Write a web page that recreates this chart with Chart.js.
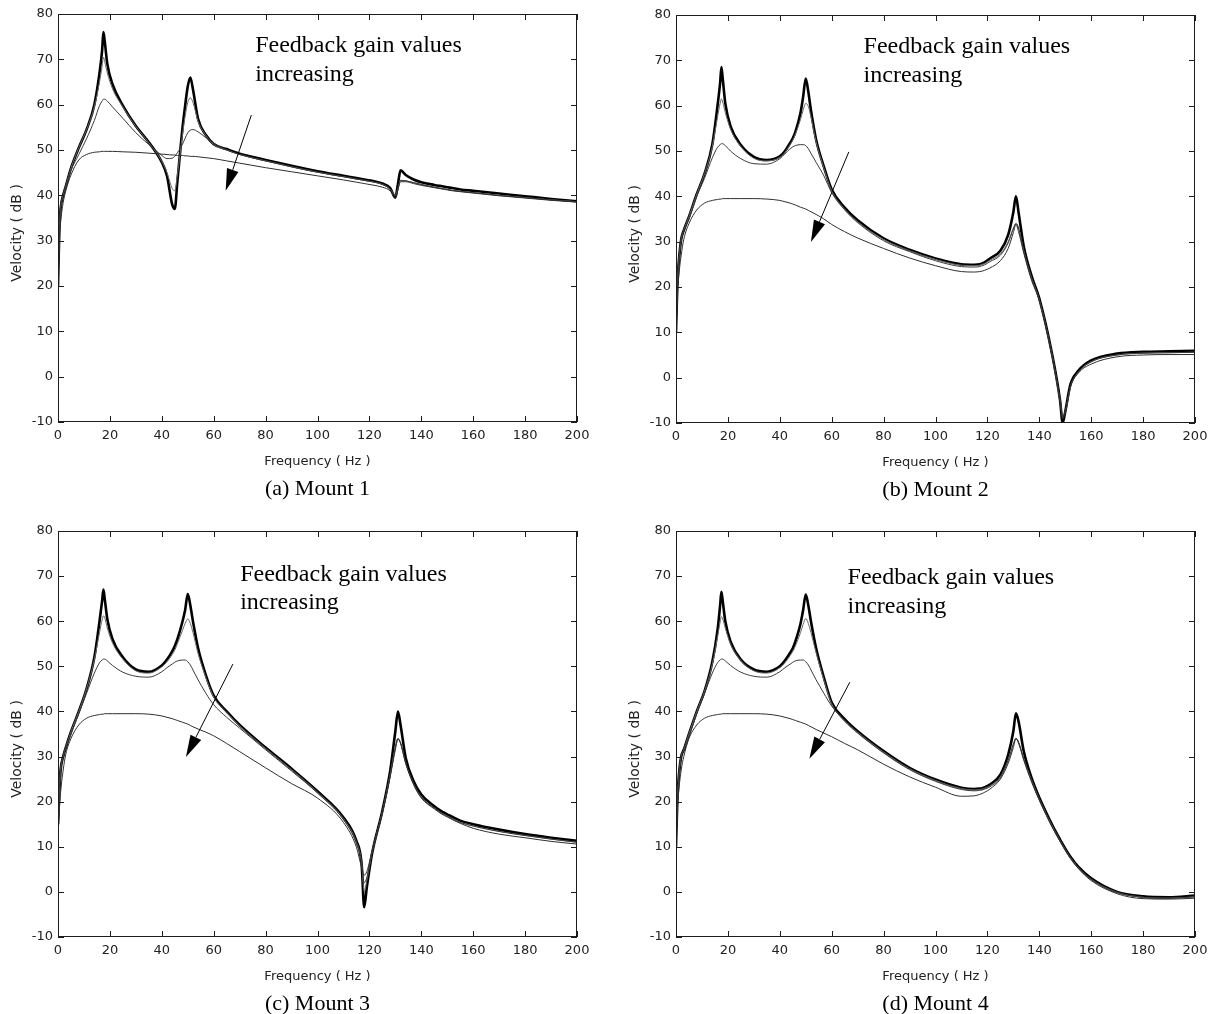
<!DOCTYPE html>
<html>
<head>
<meta charset="utf-8">
<title>Velocity response for increasing feedback gain</title>
<script src="https://cdn.jsdelivr.net/npm/chart.js@4.4.0/dist/chart.umd.min.js"></script>
<style>
    body { margin: 0; background: #fff; }
    #page { position: relative; width: 1217px; height: 1014px; background: #fff; }
    #page canvas { position: absolute; }
</style>
</head>
<body>
<div id="page">
    <canvas id="mount1" width="608" height="505" style="left:0;top:0"></canvas>
    <canvas id="mount2" width="609" height="505" style="left:608px;top:0"></canvas>
    <canvas id="mount3" width="608" height="509" style="left:0;top:505px"></canvas>
    <canvas id="mount4" width="609" height="509" style="left:608px;top:505px"></canvas>
</div>
<script>
/* ------------------------------- Data -------------------------------*/

// frequency samples (Hz), shared by every curve
var FREQ = [0, 0.5, 1, 2, 3, 5, 8, 11, 14, 16, 17, 17.5, 18, 19, 21, 25, 30, 35, 40, 42,
    44, 45, 46, 48, 49, 50, 51, 52, 54, 57, 60, 65, 70, 80, 90, 100, 110, 115, 117, 118,
    119, 121, 125, 128, 130, 131, 132, 134, 137, 140, 145, 148, 149, 150, 152, 155, 160, 170, 180, 190, 200];

var X_TICKS = [0, 20, 40, 60, 80, 100, 120, 140, 160, 180, 200];
var Y_TICKS = [-10, 0, 10, 20, 30, 40, 50, 60, 70, 80];

// velocity (dB), gain 1 = lowest feedback gain ... gain 4 = highest
var MOUNT1_G1 = [20, 32, 37, 40, 42, 46, 50.5, 54.5, 60, 67, 72, 76, 74, 69, 64.5, 59.8, 55.3, 51.7, 47.3, 44.3,
    38, 37, 43, 55, 59.8, 64, 66, 63.4, 56.8, 53.3, 51.3, 50.2, 49.2, 47.8, 46.5, 45.3, 44.3, 43.8, 43.6, 43.5,
    43.4, 43.2, 42.6, 41.6, 39.5, 42.5, 45.5, 44.5, 43.5, 42.9, 42.3, 42, 41.9, 41.8, 41.6, 41.3, 41, 40.4, 39.8, 39.2, 38.7];
var MOUNT1_G2 = [20, 32, 37, 40, 42, 46, 50.5, 54.5, 59.5, 65, 68.5, 70.5, 69.5, 67, 63.5, 59.5, 55.2, 51.6, 47.5, 45,
    41.5, 41, 44.5, 53.5, 57.5, 60.5, 61.5, 60.5, 56.3, 53.2, 51.2, 50, 49, 47.6, 46.3, 45.1, 44.1, 43.6, 43.4, 43.3,
    43.2, 43, 42.4, 41.4, 40, 41.5, 43.3, 43.2, 42.8, 42.4, 41.8, 41.5, 41.4, 41.3, 41.1, 40.9, 40.6, 40, 39.5, 39, 38.6];
var MOUNT1_G3 = [20, 32, 37, 40, 42, 45.5, 49, 52.5, 56.5, 59.8, 60.8, 61.2, 61.2, 60.8, 59.5, 57, 53.8, 51.2, 48.8, 48.1,
    48.2, 48.6, 49.4, 51.3, 52.6, 53.8, 54.4, 54.5, 54, 52.7, 51.5, 50, 49, 47.6, 46.3, 45.1, 44.1, 43.6, 43.4, 43.3,
    43.2, 43, 42.4, 41.4, 40, 41.5, 43.3, 43.2, 42.8, 42.4, 41.8, 41.5, 41.4, 41.3, 41.1, 40.9, 40.6, 40, 39.5, 39, 38.6];
var MOUNT1_G4 = [20, 30, 34, 38.4, 41, 44.5, 47.8, 49, 49.5, 49.6, 49.7, 49.7, 49.7, 49.7, 49.7, 49.6, 49.5, 49.3, 49.1, 49,
    48.9, 48.9, 48.8, 48.8, 48.7, 48.7, 48.6, 48.6, 48.5, 48.3, 48.1, 47.6, 47.1, 46.1, 45.2, 44.3, 43.4, 42.9, 42.7, 42.6,
    42.5, 42.3, 41.8, 41, 39.5, 41.2, 43, 43, 42.6, 42.2, 41.7, 41.4, 41.3, 41.2, 41, 40.8, 40.5, 39.9, 39.4, 38.9, 38.5];

var MOUNT2_G1 = [10, 20, 25, 30.5, 32.5, 35.5, 40.5, 45, 51.5, 60, 65, 68.5, 66, 60.5, 55.5, 51.3, 48.7, 48, 48.8, 50,
    51.8, 52.8, 54.2, 58.5, 62, 66, 63, 59, 52.5, 46.5, 41.5, 37.5, 34.7, 30.7, 28.2, 26.3, 25, 24.9, 25, 25.2,
    25.5, 26.3, 28, 31.5, 36.5, 40, 36.5, 29, 22.5, 17.5, 5, -5, -10, -7.5, -1.5, 1.5, 3.8, 5.3, 5.7, 5.8, 5.9];
var MOUNT2_G2 = [10, 20, 25, 30.5, 32.5, 35.5, 40.5, 45, 51, 57.5, 60.5, 61.5, 60.8, 58.5, 54.8, 51, 48.4, 47.8, 48.6, 49.7,
    51.4, 52.4, 53.7, 57, 59, 60.5, 59.8, 57.5, 52, 46.2, 41.2, 37.2, 34.4, 30.5, 28, 26.1, 24.8, 24.7, 24.8, 25,
    25.2, 25.9, 27.3, 30, 33, 34, 33, 28, 22, 17.2, 4.8, -5, -8.5, -7.5, -2, 1.2, 3.5, 5, 5.4, 5.5, 5.6];
var MOUNT2_G3 = [10, 20, 25, 30.5, 32.5, 35, 40, 44, 48.5, 50.8, 51.4, 51.6, 51.6, 51.2, 50, 48.3, 47.2, 47.1, 48.3, 49.4,
    50.5, 50.9, 51.2, 51.4, 51.4, 51.2, 50.5, 49.5, 47.5, 44.5, 40.8, 37, 34.2, 30.2, 27.8, 25.8, 24.5, 24.4, 24.5, 24.7,
    24.9, 25.6, 27, 29.7, 32.8, 34, 33, 28, 22, 17.2, 4.8, -5, -9, -7.5, -2, 1.2, 3.5, 5, 5.4, 5.5, 5.6];
var MOUNT2_G4 = [10, 18, 22, 27, 30.5, 34, 37, 38.5, 39.1, 39.3, 39.4, 39.4, 39.5, 39.5, 39.5, 39.5, 39.5, 39.4, 39.1, 38.8,
    38.5, 38.3, 38.1, 37.6, 37.4, 37.2, 36.9, 36.6, 36, 35, 33.8, 32.2, 30.8, 28.5, 26.4, 24.7, 23.4, 23.3, 23.4, 23.5,
    23.7, 24.2, 25.8, 28.5, 32, 33.8, 32.2, 27.5, 21.5, 17, 4.5, -5, -8.5, -7.5, -2, 1, 3, 4.6, 5, 5.1, 5.1];

var MOUNT3_G1 = [15, 22, 27, 30, 32, 35.5, 40, 45, 52, 60, 64.5, 67, 65, 60.5, 56, 52, 49.3, 48.8, 50.2, 51.5,
    53.3, 54.5, 56, 60, 62.5, 66, 63.5, 60, 54, 48, 43.5, 40, 37, 32, 27.3, 22.3, 16.5, 11.3, 6.2, -3.4,
    1, 8.4, 18, 26.8, 35.6, 40, 37, 29.7, 24.6, 21.6, 19, 17.8, 17.5, 17.2, 16.6, 15.8, 15, 13.8, 12.8, 12, 11.3];
var MOUNT3_G2 = [12, 22, 27, 30, 32, 35.5, 40, 45, 51.5, 57.5, 60.3, 61.2, 60.8, 58.5, 55.2, 51.6, 49, 48.5, 49.9, 51,
    52.6, 53.6, 55, 58, 59.5, 60.5, 59.5, 57.5, 52.8, 47.5, 43.2, 39.8, 36.8, 31.8, 27.1, 22.1, 16.2, 11, 6.5, 0,
    2.5, 8.6, 17.8, 26, 32.2, 34, 33, 28.5, 24, 21, 18.6, 17.4, 17.1, 16.8, 16.2, 15.4, 14.6, 13.4, 12.5, 11.7, 11];
var MOUNT3_G3 = [12, 22, 27, 30, 32, 35, 39.5, 44, 48.5, 50.8, 51.4, 51.6, 51.6, 51.2, 50.2, 48.7, 47.8, 47.6, 48.8, 49.7,
    50.5, 50.9, 51.2, 51.4, 51.4, 51, 50.3, 49.2, 47, 44, 41.5, 38.7, 36.3, 31.5, 26.8, 21.9, 16, 10.8, 6.8, 2,
    3.2, 8.8, 17.6, 25.8, 32, 34, 33, 28.5, 24, 21, 18.6, 17.4, 17.1, 16.8, 16.2, 15.4, 14.6, 13.4, 12.5, 11.7, 11];
var MOUNT3_G4 = [12, 18, 22, 27, 30.5, 34, 37, 38.5, 39.1, 39.3, 39.4, 39.4, 39.5, 39.5, 39.5, 39.5, 39.5, 39.4, 39, 38.7,
    38.4, 38.2, 38, 37.6, 37.4, 37.2, 36.9, 36.6, 36.1, 35.4, 34.6, 32.9, 31.1, 27.5, 24, 20.8, 15.4, 9.9, 5.4, 3.7,
    4.5, 9, 17.5, 25.5, 31.5, 33.8, 33, 28.5, 23.8, 20.8, 18.4, 17.2, 16.9, 16.6, 16, 15.2, 14.1, 12.8, 12, 11.2, 10.6];

var MOUNT4_G1 = [10, 20, 25, 30, 31.5, 35, 40, 44.5, 51, 58, 63.5, 66.5, 64.5, 60, 55.5, 51.5, 49.3, 48.8, 50, 51.3,
    53, 54, 55.5, 59.5, 62.5, 65.9, 63.5, 60, 54, 47.5, 42, 38.3, 35.6, 31.2, 27.5, 24.9, 23.1, 22.8, 22.9, 23,
    23.2, 23.8, 26, 30.4, 35.6, 39.6, 37.8, 31.2, 25.3, 20.9, 14.8, 11.6, 10.6, 9.6, 7.8, 5.6, 3, 0, -1, -1.2, -0.8];
var MOUNT4_G2 = [10, 20, 25, 30, 31.5, 35, 40, 44.5, 50.5, 56.5, 59.8, 61, 60.5, 58.5, 55, 51.3, 49, 48.5, 49.7, 50.8,
    52.4, 53.3, 54.5, 57.5, 59.3, 60.6, 59.5, 57.5, 53, 47, 41.7, 38, 35.4, 31, 27.3, 24.7, 22.9, 22.6, 22.7, 22.8,
    23, 23.5, 25.5, 29.3, 32.8, 34, 33.2, 29.5, 24.8, 20.6, 14.6, 11.4, 10.4, 9.4, 7.6, 5.4, 2.8, -0.1, -1.2, -1.4, -1.1];
var MOUNT4_G3 = [10, 20, 25, 30, 31.5, 34.5, 39.5, 44, 48.5, 50.8, 51.4, 51.6, 51.6, 51.2, 50.2, 48.7, 47.8, 47.6, 48.8, 49.7,
    50.5, 50.9, 51.2, 51.4, 51.4, 51, 50.3, 49.2, 47, 44, 41.2, 37.8, 35.2, 30.8, 27.1, 24.5, 22.7, 22.4, 22.5, 22.6,
    22.8, 23.3, 25.3, 29.1, 32.7, 34, 33.2, 29.5, 24.8, 20.6, 14.6, 11.4, 10.4, 9.4, 7.6, 5.4, 2.8, -0.1, -1.2, -1.4, -1.1];
var MOUNT4_G4 = [10, 18, 22, 27, 30, 34, 37, 38.5, 39.1, 39.3, 39.4, 39.4, 39.5, 39.5, 39.5, 39.5, 39.5, 39.4, 39, 38.7,
    38.4, 38.2, 38, 37.6, 37.4, 37.2, 36.9, 36.6, 36, 35.2, 34.4, 32.9, 31.5, 28.3, 25.5, 23.2, 21.2, 21.3, 21.6, 21.8,
    22.1, 22.8, 25, 28.5, 32, 34, 33, 29.2, 24.4, 20.3, 14.3, 11.2, 10.2, 9.2, 7.4, 5.2, 2.5, -0.4, -1.5, -1.6, -1.4];

/* ------------------------------- Panels -------------------------------*/

var PANELS = [{
    id: 'mount1', caption: '(a) Mount 1',
    curves: [MOUNT1_G1, MOUNT1_G2, MOUNT1_G3, MOUNT1_G4],
    padTop: 14, padRight: 31, yWidth: 58, xHeight: 83,
    note: [76, 73, 66.5], arrow: [74.5, 57.7, 64.6, 41]         // note: freq, dB line1, dB line2
}, {
    id: 'mount2', caption: '(b) Mount 2',
    curves: [MOUNT2_G1, MOUNT2_G2, MOUNT2_G3, MOUNT2_G4],
    padTop: 15, padRight: 22, yWidth: 68, xHeight: 82,
    note: [72.3, 73, 66.5], arrow: [66.6, 49.8, 52, 29.9]
}, {
    id: 'mount3', caption: '(c) Mount 3',
    curves: [MOUNT3_G1, MOUNT3_G2, MOUNT3_G3, MOUNT3_G4],
    padTop: 26, padRight: 31, yWidth: 58, xHeight: 77,
    note: [70.2, 70.3, 64], arrow: [67.4, 50.5, 49.3, 29.9]
}, {
    id: 'mount4', caption: '(d) Mount 4',
    curves: [MOUNT4_G1, MOUNT4_G2, MOUNT4_G3, MOUNT4_G4],
    padTop: 26, padRight: 22, yWidth: 68, xHeight: 77,
    note: [66.1, 69.7, 63.3], arrow: [67, 46.5, 51.4, 29.5]
}];

var TICK_LEN = 6;
var SANS = '"DejaVu Sans", Arial, sans-serif';
var SERIF = '"Liberation Serif", "Times New Roman", serif';

/* ------------------------------- Plugin -------------------------------*/

var framePlugin = {                                         // box, inner ticks, axis labels, caption, note
    id: 'frame',
    afterDatasetsDraw: function (chart) {
        var ctx = chart.ctx;
        var area = chart.chartArea;
        var xs = chart.scales.x;
        var ys = chart.scales.y;
        var panel = chart.options.plugins.frame.panel;

        ctx.save();
        ctx.strokeStyle = '#1c1c1c';
        ctx.lineWidth = 1;
        ctx.strokeRect(area.left + 0.5, area.top + 0.5, area.right - area.left - 1, area.bottom - area.top - 1);

        ctx.beginPath();
        X_TICKS.forEach(function (t) {
            var px = Math.round(xs.getPixelForValue(t)) + 0.5;
            ctx.moveTo(px, area.bottom); ctx.lineTo(px, area.bottom - TICK_LEN);
            ctx.moveTo(px, area.top); ctx.lineTo(px, area.top + TICK_LEN);
        });
        Y_TICKS.forEach(function (t) {
            var py = Math.round(ys.getPixelForValue(t)) + 0.5;
            ctx.moveTo(area.left, py); ctx.lineTo(area.left + TICK_LEN, py);
            ctx.moveTo(area.right, py); ctx.lineTo(area.right - TICK_LEN, py);
        });
        ctx.stroke();

        var midX = (area.left + area.right) / 2;
        ctx.fillStyle = '#222';
        ctx.font = '13px ' + SANS;
        ctx.textAlign = 'center';
        ctx.textBaseline = 'middle';
        ctx.fillText('Frequency ( Hz )', midX, area.bottom + 40);

        ctx.save();
        ctx.translate(area.left - 41, (area.top + area.bottom) / 2 + 15);
        ctx.rotate(-Math.PI / 2);
        ctx.font = '14px ' + SANS;
        ctx.fillText('Velocity ( dB )', 0, 0);
        ctx.restore();

        ctx.fillStyle = '#000';
        ctx.font = '22px ' + SERIF;
        ctx.fillText(panel.caption, midX, area.bottom + 67);

        // "Feedback gain values increasing" note
        ctx.font = '24px ' + SERIF;
        ctx.textAlign = 'left';
        var nx = xs.getPixelForValue(panel.note[0]);
        ctx.fillText('Feedback gain values', nx, ys.getPixelForValue(panel.note[1]));
        ctx.fillText('increasing', nx, ys.getPixelForValue(panel.note[2]));

        drawArrow(ctx,
            xs.getPixelForValue(panel.arrow[0]), ys.getPixelForValue(panel.arrow[1]),
            xs.getPixelForValue(panel.arrow[2]), ys.getPixelForValue(panel.arrow[3]));
        ctx.restore();
    }
};

function drawArrow(ctx, x0, y0, x1, y1) {
    var ang = Math.atan2(y1 - y0, x1 - x0);
    var headLen = 22, headHalf = 6;
    var bx = x1 - headLen * Math.cos(ang);
    var by = y1 - headLen * Math.sin(ang);

    ctx.strokeStyle = '#000';
    ctx.lineWidth = 1;
    ctx.beginPath();
    ctx.moveTo(x0, y0);
    ctx.lineTo(bx, by);
    ctx.stroke();

    ctx.fillStyle = '#000';
    ctx.beginPath();
    ctx.moveTo(x1, y1);
    ctx.lineTo(bx + headHalf * Math.sin(ang), by - headHalf * Math.cos(ang));
    ctx.lineTo(bx - headHalf * Math.sin(ang), by + headHalf * Math.cos(ang));
    ctx.closePath();
    ctx.fill();
}

/* ------------------------------- Charts -------------------------------*/

function toPoints(values) {
    return FREQ.map(function (f, i) { return { x: f, y: values[i] }; });
}

function createDatasets(curves) {                          // thin curves on top, thick one underneath
    var styles = [
        { color: '#000', width: 2.6 },                          // lowest gain
        { color: '#666', width: 1 },
        { color: '#3a3a3a', width: 1 },
        { color: '#2e2e2e', width: 1 }                          // highest gain
    ];
    var sets = [];
    for (let i = curves.length - 1; i >= 0; i--) {
        sets.push({
            data: toPoints(curves[i]),
            borderColor: styles[i].color,
            borderWidth: styles[i].width,
            pointRadius: 0,
            cubicInterpolationMode: 'monotone',
            fill: false
        });
    }
    return sets;
}

function createConfig(panel) {
    var tickFont = { family: SANS, size: 13 };
    return {
        type: 'line',
        data: { datasets: createDatasets(panel.curves) },
        options: {
            responsive: false,
            animation: false,
            layout: { padding: { top: panel.padTop, right: panel.padRight, left: 0, bottom: 0 } },
            plugins: {
                legend: { display: false },
                tooltip: { enabled: false },
                frame: { panel: panel }
            },
            scales: {
                x: {
                    type: 'linear', min: 0, max: 200,
                    afterBuildTicks: function (axis) { axis.ticks = X_TICKS.map(function (v) { return { value: v }; }); },
                    ticks: { color: '#222', font: tickFont, padding: 6, maxRotation: 0 },
                    grid: { display: false, drawTicks: false },
                    border: { display: false },
                    afterFit: function (axis) { axis.height = panel.xHeight; }
                },
                y: {
                    type: 'linear', min: -10, max: 80,
                    afterBuildTicks: function (axis) { axis.ticks = Y_TICKS.map(function (v) { return { value: v }; }); },
                    ticks: { color: '#222', font: tickFont, padding: 5 },
                    grid: { display: false, drawTicks: false },
                    border: { display: false },
                    afterFit: function (axis) { axis.width = panel.yWidth; }
                }
            }
        },
        plugins: [framePlugin]
    };
}

function drawCharts() {
    PANELS.forEach(function (panel) {
        var ctx = document.getElementById(panel.id).getContext('2d');
        new Chart(ctx, createConfig(panel));
    });
}

drawCharts();
</script>
</body>
</html>
